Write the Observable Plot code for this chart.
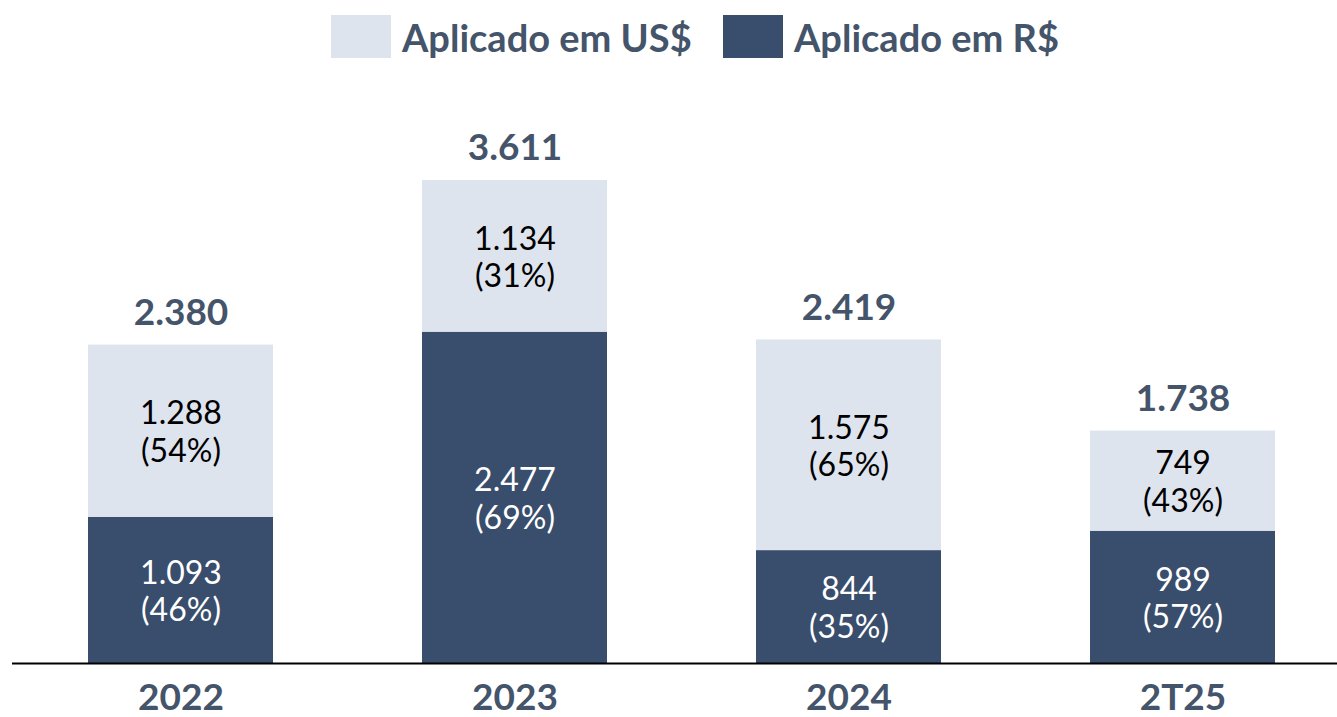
<!DOCTYPE html>
<html>
<head>
<meta charset="utf-8">
<script src="https://cdn.jsdelivr.net/npm/d3@7"></script>
<script src="https://cdn.jsdelivr.net/npm/@observablehq/plot@0.6"></script>
<style>
  html, body { margin: 0; padding: 0; background: #fff; }
  body { width: 1337px; height: 717px; overflow: hidden; font-family: Lato, "Open Sans", sans-serif; }
  #legend { position: relative; height: 80px; width: 1337px; }
  .item { position: absolute; top: 15px; display: flex; align-items: center; height: 43px; }
  .sw { width: 60px; height: 43px; margin-right: 11px; }
  .lab { font-weight: bold; font-size: 38px; color: #44546A; white-space: nowrap; }
</style>
</head>
<body>
<div id="legend"></div>
<div id="chart"></div>
<script>
const years = ["2022", "2023", "2024", "2T25"];
const brl = [1093, 2477, 844, 989];
const usd = [1288, 1134, 1575, 749];
const brlPct = [46, 69, 35, 57];
const usdPct = [54, 31, 65, 43];
const totals = [2380, 3611, 2419, 1738];
const seriesNames = ["Aplicado em US$", "Aplicado em R$"];
const colors = ["#DEE4EE", "#394D6C"];
const textColor = "#44546A";

const fmt = d3.formatLocale({decimal: ",", thousands: ".", grouping: [3], currency: ["R$", ""]}).format(",d");

const rows = years.flatMap((y, i) => [
  {year: y, series: "Aplicado em R$", value: brl[i], pct: brlPct[i], mid: brl[i] / 2},
  {year: y, series: "Aplicado em US$", value: usd[i], pct: usdPct[i], mid: brl[i] + usd[i] / 2}
]);
const totalRows = years.map((y, i) => ({year: y, total: totals[i]}));

// legend
const legend = document.getElementById("legend");
const lefts = [331, 723];
seriesNames.forEach((name, i) => {
  const it = document.createElement("div");
  it.className = "item";
  it.style.left = lefts[i] + "px";
  it.innerHTML = `<div class="sw" style="background:${colors[i]}"></div><div class="lab">${name}</div>`;
  legend.appendChild(it);
});

const label = d => fmt(d.value) + "\n(" + d.pct + "%)";

const chart = Plot.plot({
  width: 1337,
  height: 637,
  marginLeft: 87,
  marginRight: 61,
  marginTop: 48,
  marginBottom: 54,
  style: {fontFamily: "Lato, 'Open Sans', sans-serif", background: "#fff"},
  x: {domain: years, paddingInner: 0.447, paddingOuter: 0, axis: null},
  y: {domain: [0, 4000], axis: null},
  color: {domain: seriesNames, range: colors},
  marks: [
    Plot.barY(rows, {x: "year", y: "value", fill: "series", z: "series"}),
    Plot.text(rows.filter(d => d.series === "Aplicado em US$"), {
      x: "year", y: "mid", text: label,
      fill: "black", fontSize: 32, lineHeight: 1.18
    }),
    Plot.text(rows.filter(d => d.series === "Aplicado em R$"), {
      x: "year", y: "mid", text: label,
      fill: "white", fontSize: 32, lineHeight: 1.18
    }),
    Plot.text(totalRows, {
      x: "year", y: "total", text: d => fmt(d.total),
      dy: -32, fontWeight: "bold", fontSize: 37, fill: textColor
    }),
    Plot.ruleY([0], {stroke: "black", strokeWidth: 2, insetLeft: -75, insetRight: -61}),
    Plot.text(years, {
      x: d => d, frameAnchor: "bottom", dy: 46, text: d => d,
      fontWeight: "bold", fontSize: 37, fill: textColor
    })
  ]
});
document.getElementById("chart").appendChild(chart);
</script>
</body>
</html>
